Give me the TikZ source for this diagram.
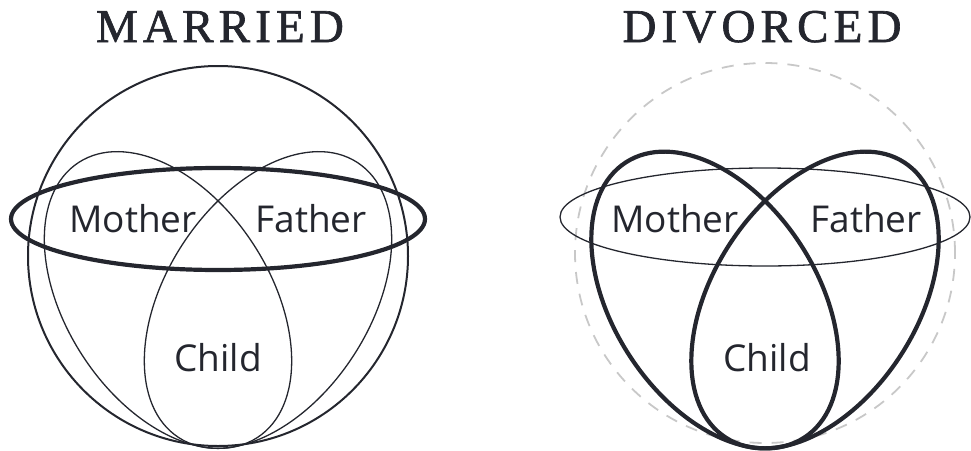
\documentclass[tikz,border=0pt]{standalone}
\usepackage{fontspec}
\setsansfont{Open Sans}
\newfontfamily\headfont[FakeBold=1.4, LetterSpace=11]{Liberation Serif}
\usetikzlibrary{positioning}

\definecolor{ink}{RGB}{36,38,46}
\definecolor{faint}{RGB}{200,200,200}

\begin{document}
\begin{tikzpicture}[
  x=1pt, y=-1pt,
  heading/.style={anchor=base, inner sep=0pt, text=ink, font=\headfont\fontsize{47}{47}\selectfont},
  member/.style={anchor=base, inner sep=0pt, text=ink, font=\sffamily\fontsize{37}{37}\selectfont},
  thinline/.style={draw=ink, line width=1.3pt},
  thickline/.style={draw=ink, line width=4.2pt},
  ring/.style={draw=ink, line width=2pt},
  ghost/.style={draw=faint, line width=1.8pt, dash pattern=on 12pt off 10pt},
]
\useasboundingbox (0,0) rectangle (971,450);

% === MARRIED ===
\node[heading] (married) at (220,42) {MARRIED};
\draw[ring] (218,256) circle [radius=190pt];
\draw[thinline, rotate around={-57:(168,300)}] (168,300) ellipse [x radius=164pt, y radius=102pt];
\draw[thinline, rotate around={57:(268,300)}] (268,300) ellipse [x radius=164pt, y radius=102pt];
\draw[thickline] (218,219) ellipse [x radius=207pt, y radius=51pt];

\node[member] (mother1) at (133,232) {Mother};
\node[member] (father1) at (311,232) {Father};
\node[member] (child1) at (218,371) {Child};

% === DIVORCED ===
\node[heading] (divorced) at (762,42) {DIVORCED};
\draw[ghost] (765,253) circle [radius=190pt];
\draw[thinline] (765,217) ellipse [x radius=205pt, y radius=49pt];
\draw[thickline, rotate around={-57:(715,300)}] (715,300) ellipse [x radius=164pt, y radius=102pt];
\draw[thickline, rotate around={57:(815,300)}] (815,300) ellipse [x radius=164pt, y radius=102pt];

\node[member] (mother2) at (675,232) {Mother};
\node[member] (father2) at (866,232) {Father};
\node[member] (child2) at (767,371) {Child};

\end{tikzpicture}
\end{document}
